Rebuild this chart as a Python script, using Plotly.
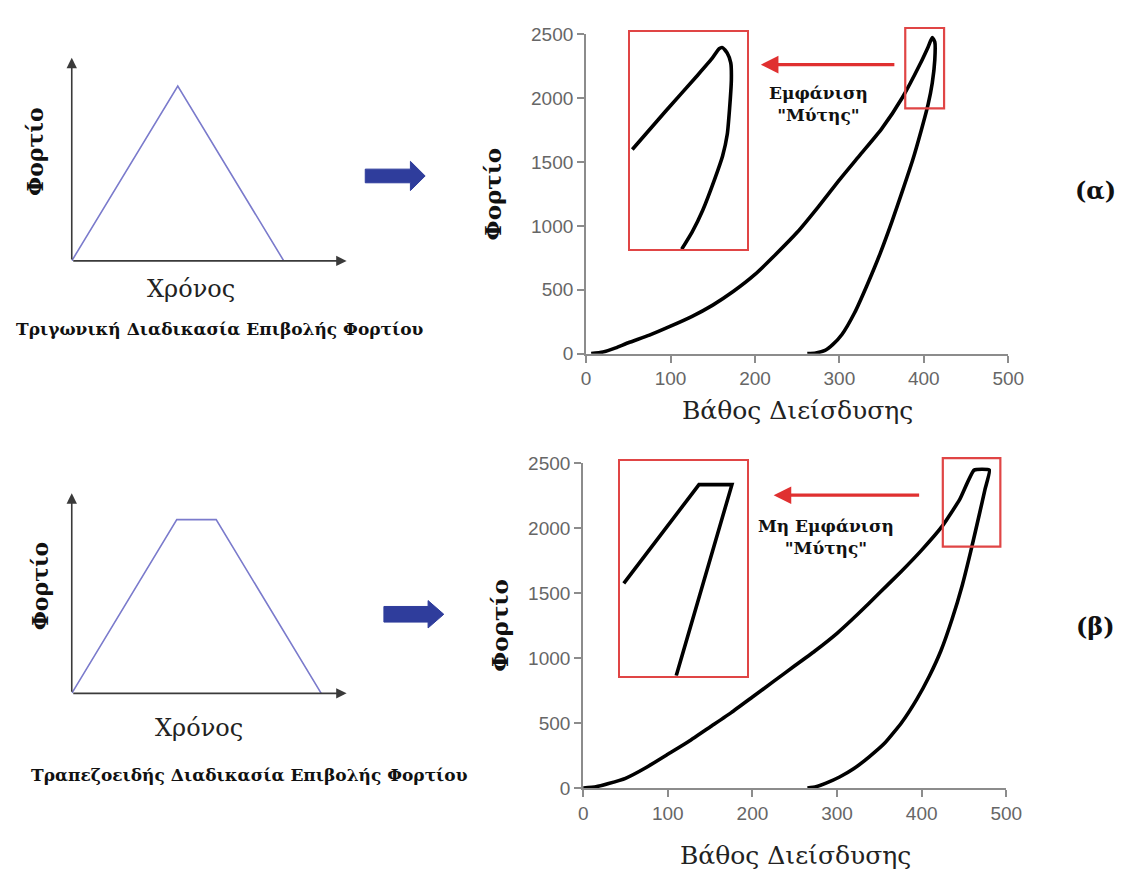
import plotly.graph_objects as go

W, H = 1144, 883

# ---------------- data ----------------
# schematic load histories (time, load in arbitrary units)
tri_time = [0, 8, 16]
tri_load = [0, 1, 0]
trap_time = [0, 8, 11, 19]
trap_load = [0, 1, 1, 0]

# (a) triangular loading: load-depth curve
a_load_depth = [6, 20, 35, 50, 75, 100, 125, 150, 175, 200, 225, 250, 275, 300, 325, 350, 375, 395, 405, 410]
a_load_force = [0, 12, 45, 85, 145, 215, 290, 380, 490, 620, 780, 950, 1150, 1360, 1560, 1760, 2010, 2260, 2400, 2475]
a_unload_depth = [413, 413, 410, 405, 397, 387, 375, 362, 348, 333, 318, 303, 292, 283, 272, 262]
a_unload_force = [2440, 2300, 2120, 1950, 1750, 1520, 1280, 1030, 780, 540, 320, 150, 70, 25, 5, 0]

# (a) magnified tip (normalised inset coordinates)
a_tip_x = [0.017, 0.30, 0.58, 0.70, 0.76, 0.79, 0.83, 0.86, 0.865, 0.85, 0.83, 0.79, 0.72, 0.62, 0.53, 0.44]
a_tip_y = [0.46, 0.635, 0.805, 0.88, 0.925, 0.93, 0.905, 0.86, 0.78, 0.65, 0.53, 0.43, 0.32, 0.18, 0.08, 0.0]

# (b) trapezoidal loading: load-depth curve
b_load_depth = [0, 15, 30, 50, 75, 100, 125, 150, 175, 200, 225, 250, 275, 300, 325, 350, 375, 400, 425, 445, 462, 480]
b_load_force = [0, 10, 35, 75, 160, 260, 360, 470, 580, 700, 820, 940, 1060, 1190, 1340, 1500, 1660, 1830, 2020, 2220, 2445, 2445]
b_unload_depth = [475, 468, 458, 448, 436, 423, 409, 394, 376, 357, 338, 320, 303, 287, 275, 265]
b_unload_force = [2300, 2100, 1820, 1560, 1300, 1060, 860, 680, 500, 350, 240, 150, 85, 38, 10, 0]

# (b) magnified tip (normalised inset coordinates)
b_tip_x = [0.026, 0.62, 0.88, 0.44]
b_tip_y = [0.43, 0.89, 0.89, 0.0]

x_ticks = [0, 100, 200, 300, 400, 500]
y_ticks = [0, 500, 1000, 1500, 2000, 2500]

# zoom windows on the main plots (data coordinates)
a_zoom = dict(x0=378, x1=424, y0=1920, y1=2550)
b_zoom = dict(x0=425, x1=493, y0=1856, y1=2537)

# ---------------- helpers ----------------
def px(x):
    return x / W

def py(y):
    return 1 - y / H

SERIF = "DejaVu Serif"
SANS = "Liberation Sans"

fig = go.Figure()

# panel geometry (pixels)
geo = {
    "sa": dict(x=(68, 348), y=(257, 49)),      # schematic a
    "ma": dict(x=(592, 1022), y=(352, 25)),    # main a
    "ia": dict(x=(637, 756), y=(245, 23)),     # inset a
    "sb": dict(x=(68, 348), y=(700, 495)),     # schematic b
    "mb": dict(x=(589, 1020), y=(797, 464)),   # main b
    "ib": dict(x=(627, 756), y=(682, 462)),    # inset b
}

def dom(g):
    return [px(g["x"][0]), px(g["x"][1])], [py(g["y"][0]), py(g["y"][1])]

hidden = dict(visible=False, showgrid=False, zeroline=False)

# schematic ranges: 8 time units -> 108 px, peak load -> 179 px
sa_xr = [0, (348 - 68) / 13.5]
sa_yr = [0, (257 - 49) / 179]
sb_xr = [0, (348 - 68) / 13.375]
sb_yr = [0, (700 - 495) / 178]

layout_axes = {}
dx, dy = dom(geo["sa"])
layout_axes["xaxis"] = dict(domain=dx, range=sa_xr, anchor="y", **hidden)
layout_axes["yaxis"] = dict(domain=dy, range=sa_yr, anchor="x", **hidden)
dx, dy = dom(geo["sb"])
layout_axes["xaxis4"] = dict(domain=dx, range=sb_xr, anchor="y4", **hidden)
layout_axes["yaxis4"] = dict(domain=dy, range=sb_yr, anchor="x4", **hidden)

main_common = dict(showline=True, linecolor="#8c8c8c", linewidth=2, ticks="outside",
                   ticklen=7, tickwidth=2, tickcolor="#8c8c8c", showgrid=False, zeroline=False,
                   tickfont=dict(family=SANS, size=19, color="#666666"))
for key, ax in (("ma", "2"), ("mb", "5")):
    dx, dy = dom(geo[key])
    layout_axes["xaxis" + ax] = dict(domain=dx, range=[0, 500], tickvals=x_ticks, anchor="y" + ax, **main_common)
    layout_axes["yaxis" + ax] = dict(domain=dy, range=[0, 2500], tickvals=y_ticks, anchor="x" + ax, **main_common)

inset_common = dict(showline=True, mirror=True, linecolor="#e04545", linewidth=2.2,
                    showticklabels=False, ticks="", showgrid=False, zeroline=False, range=[0, 1])
for key, ax in (("ia", "3"), ("ib", "6")):
    dx, dy = dom(geo[key])
    layout_axes["xaxis" + ax] = dict(domain=dx, anchor="y" + ax, **inset_common)
    layout_axes["yaxis" + ax] = dict(domain=dy, anchor="x" + ax, **inset_common)

# ---------------- traces ----------------
lav = "#7b7bcc"
fig.add_trace(go.Scatter(x=tri_time, y=tri_load, mode="lines", line=dict(color=lav, width=1.6),
                         xaxis="x", yaxis="y", hoverinfo="skip"))
fig.add_trace(go.Scatter(x=trap_time, y=trap_load, mode="lines", line=dict(color=lav, width=1.6),
                         xaxis="x4", yaxis="y4", hoverinfo="skip"))

fig.add_trace(go.Scatter(x=a_load_depth + a_unload_depth, y=a_load_force + a_unload_force, mode="lines",
                         line=dict(color="black", width=3.6, shape="spline", smoothing=0.6),
                         xaxis="x2", yaxis="y2", hoverinfo="skip"))
fig.add_trace(go.Scatter(x=b_load_depth + b_unload_depth, y=b_load_force + b_unload_force, mode="lines",
                         line=dict(color="black", width=3.6, shape="spline", smoothing=0.4),
                         xaxis="x5", yaxis="y5", hoverinfo="skip"))
fig.add_trace(go.Scatter(x=a_tip_x, y=a_tip_y, mode="lines",
                         line=dict(color="black", width=3.6, shape="spline", smoothing=0.5),
                         xaxis="x3", yaxis="y3", hoverinfo="skip"))
fig.add_trace(go.Scatter(x=b_tip_x, y=b_tip_y, mode="lines",
                         line=dict(color="black", width=3.6),
                         xaxis="x6", yaxis="y6", hoverinfo="skip"))

# ---------------- shapes & annotations ----------------
shapes = []
annotations = []

def data_to_paper(key, xr, yr, x, y):
    g = geo[key]
    xp = g["x"][0] + (x - xr[0]) / (xr[1] - xr[0]) * (g["x"][1] - g["x"][0])
    yp = g["y"][0] + (y - yr[0]) / (yr[1] - yr[0]) * (g["y"][1] - g["y"][0])
    return px(xp), py(yp)

for key, z in (("ma", a_zoom), ("mb", b_zoom)):
    x0, y0 = data_to_paper(key, [0, 500], [0, 2500], z["x0"], z["y0"])
    x1, y1 = data_to_paper(key, [0, 500], [0, 2500], z["x1"], z["y1"])
    shapes.append(dict(type="rect", xref="paper", yref="paper", x0=x0, x1=x1, y0=y0, y1=y1,
                       line=dict(color="#e04545", width=2.2)))

# schematic axis arrows
for xa, ya, xr, yr in (("x", "y", sa_xr, sa_yr), ("x4", "y4", sb_xr, sb_yr)):
    for tx, ty in ((xr[1], 0), (0, yr[1])):
        annotations.append(dict(x=tx, y=ty, ax=0, ay=0, xref=xa, yref=ya, axref=xa, ayref=ya,
                                showarrow=True, arrowhead=2, arrowsize=1.3, arrowwidth=1.6,
                                arrowcolor="#3a3a3a", text=""))

# blue block arrows
def block_arrow(x0, x_head, x_tip, yc, hs, hh):
    pts = [(x0, yc - hs), (x_head, yc - hs), (x_head, yc - hh), (x_tip, yc),
           (x_head, yc + hh), (x_head, yc + hs), (x0, yc + hs)]
    path = "M " + " L ".join(f"{px(a):.5f},{py(b):.5f}" for a, b in pts) + " Z"
    return dict(type="path", xref="paper", yref="paper", path=path,
                fillcolor="#2f3d9c", line=dict(color="#2f3d9c", width=1))

shapes.append(block_arrow(367, 413, 428, 170, 7, 15))
shapes.append(block_arrow(386, 431, 447, 619, 8, 14))

# red arrows
for xt, xtail, yy in ((770, 905, 56), (783, 930, 497)):
    annotations.append(dict(x=px(xt), y=py(yy), xref="paper", yref="paper",
                            ax=xtail - xt, ay=0, axref="pixel", ayref="pixel",
                            showarrow=True, arrowhead=2, arrowsize=1.1, arrowwidth=3.2,
                            arrowcolor="#e03030", text=""))

def txt(s, x, y, size, bold=False, angle=0, color="#111111", family=SERIF):
    annotations.append(dict(text=f"<b>{s}</b>" if bold else s, x=px(x), y=py(y), xref="paper", yref="paper",
                            showarrow=False, textangle=angle, xanchor="center", yanchor="middle",
                            font=dict(family=family, size=size, color=color)))

# panel (a)
txt("Φορτίο", 30, 145, 22, bold=True, angle=-90)
txt("Χρόνος", 189, 286, 24, color="#222222")
txt("Τριγωνική Διαδικασία Επιβολής Φορτίου", 219, 327, 17, bold=True)
txt("Φορτίο", 497, 188, 23, bold=True, angle=-90)
txt("Βάθος Διείσδυσης", 807, 410, 25, color="#222222")
txt("Εμφάνιση<br>\"Μύτης\"", 829, 96, 17, bold=True)
txt("(α)", 1111, 185, 24, bold=True)

# panel (b)
txt("Φορτίο", 36, 590, 22, bold=True, angle=-90)
txt("Χρόνος", 198, 736, 24, color="#222222")
txt("Τραπεζοειδής Διαδικασία Επιβολής Φορτίου", 249, 784, 17, bold=True)
txt("Φορτίο", 503, 630, 23, bold=True, angle=-90)
txt("Βάθος Διείσδυσης", 805, 866, 25, color="#222222")
txt("Μη Εμφάνιση<br>\"Μύτης\"", 836, 540, 17, bold=True)
txt("(β)", 1111, 632, 24, bold=True)

fig.update_layout(width=W, height=H, margin=dict(l=0, r=0, t=0, b=0),
                  paper_bgcolor="white", plot_bgcolor="rgba(0,0,0,0)",
                  showlegend=False, shapes=shapes, annotations=annotations, **layout_axes)

fig.write_html("out.html")
